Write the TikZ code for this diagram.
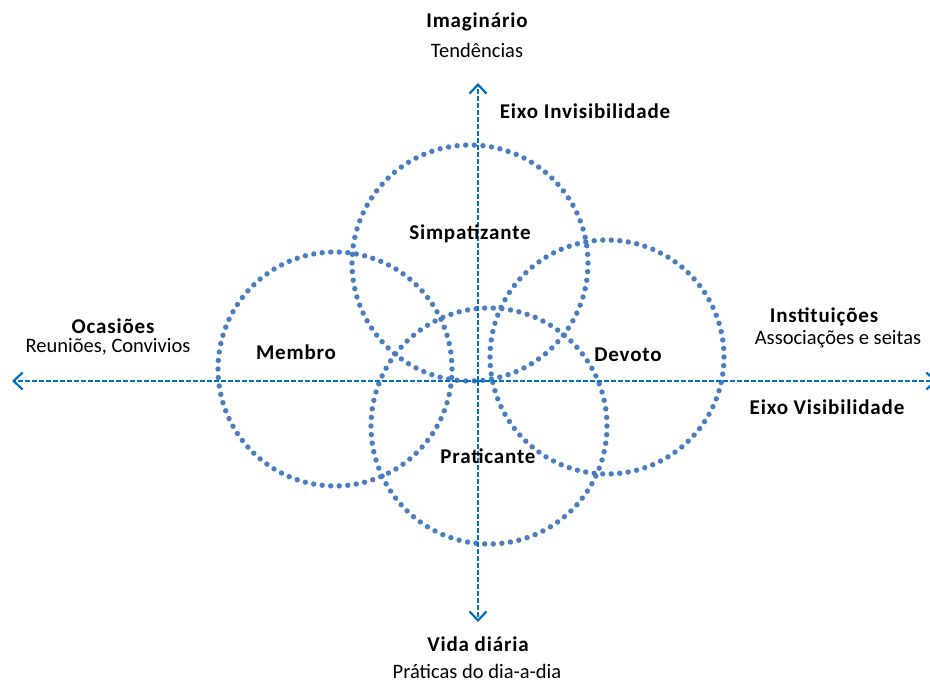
\documentclass[tikz,border=0pt]{standalone}
\usepackage{fontspec}
\setmainfont{Carlito}
\newfontfamily\labelbold[LetterSpace=4]{Carlito Bold}
\usetikzlibrary{arrows.meta}
\definecolor{axisblue}{HTML}{0070C0}
\definecolor{ringblue}{HTML}{4A7EBF}
\begin{document}
\begin{tikzpicture}[x=1pt,y=-1pt,
  axis/.style={draw=axisblue, line width=2.2pt, dash pattern=on 5pt off 2pt,
    -{Straight Barb[length=9pt,width=17pt,line width=2.2pt]}},
  ring/.style={circle, draw=ringblue, line width=5.4pt, line cap=round,
    inner sep=0pt, outer sep=0pt, minimum size=#1,
    dash pattern=on 0pt off {pi*#1/86}},
  bold/.style={font=\fontsize{21}{25}\labelbold, inner sep=0pt},
  plain/.style={font=\fontsize{20.5}{24}\selectfont, inner sep=0pt}
]
\useasboundingbox (0,0) rectangle (930,684);

% four overlapping dotted rings
\node[ring=236pt] (simp) at (470,263) {};
\node[ring=234pt] (memb) at (335,369) {};
\node[ring=234pt] (devo) at (607,357) {};
\node[ring=236pt] (prat) at (489,426) {};

% axes
\coordinate (hcen) at (478,381);
\coordinate (west) at (12,381);
\coordinate (east) at (937,381);
\coordinate (north) at (478,83);
\coordinate (south) at (478,622);
\draw[axis] (hcen) -- (west);
\draw[axis] (hcen) -- (east);
\draw[axis] (hcen) -- (north);
\draw[axis] (hcen) -- (south);

% ring labels
\node[bold] (lsimp) at (470,234) {Simpatizante};
\node[bold] (lmemb) at (296,352) {Membro};
\node[bold] (ldevo) at (628,355) {Devoto};
\node[bold] (lprat) at (488,456) {Praticante};

% axis labels
\node[bold] (imag) at (477,22) {Imaginário};
\node[plain] (tend) at (477,50) {Tendências};
\node[bold] (einv) at (585,111) {Eixo Invisibilidade};
\node[bold] (ocas) at (113,326) {Ocasiões};
\node[plain] (reun) at (108,347) {Reuniões, Convivios};
\node[bold] (inst) at (824,317) {Instituições};
\node[plain] (asso) at (838,339) {Associações e seitas};
\node[bold] (evis) at (827,407) {Eixo Visibilidade};
\node[bold] (vida) at (478,644) {Vida diária};
\node[plain] (prad) at (477,671) {Práticas do dia-a-dia};
\end{tikzpicture}
\end{document}
